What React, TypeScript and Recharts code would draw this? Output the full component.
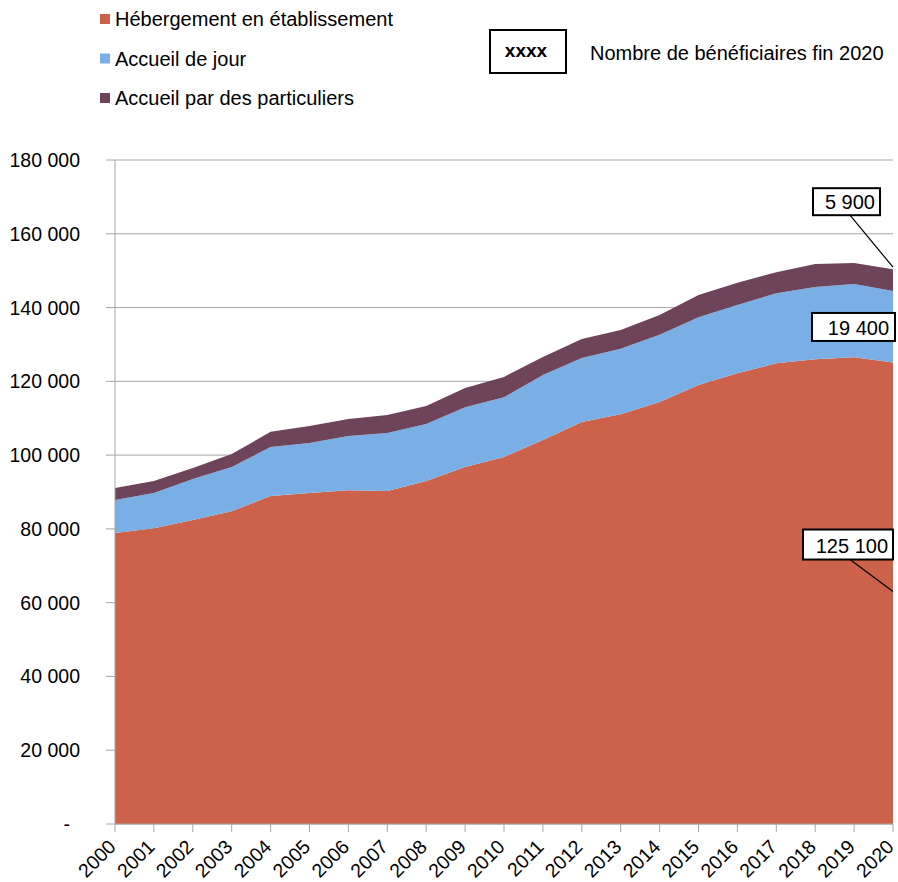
import React from 'react';
import { AreaChart, Area, XAxis, YAxis, CartesianGrid } from 'recharts';

const years = ['2000', '2001', '2002', '2003', '2004', '2005', '2006', '2007', '2008', '2009', '2010',
  '2011', '2012', '2013', '2014', '2015', '2016', '2017', '2018', '2019', '2020'];
const hebergement = [78900, 80200, 82400, 84800, 88900, 89700, 90500, 90300, 93000, 96800, 99500,
  104100, 109000, 111100, 114400, 119000, 122200, 124900, 126000, 126500, 125100];
const accueilJour = [8900, 9500, 11100, 12000, 13300, 13600, 14700, 15700, 15400, 16200, 16200,
  17600, 17300, 17700, 18200, 18400, 18500, 19000, 19600, 19900, 19400];
const particuliers = [3300, 3300, 3000, 3500, 4100, 4600, 4600, 4900, 4900, 5200, 5500,
  4900, 5200, 5100, 5400, 6000, 6000, 5700, 6200, 5700, 5900];
const yTicks = [0, 20000, 40000, 60000, 80000, 100000, 120000, 140000, 160000, 180000];

const FONT = '"Liberation Sans", Arial, sans-serif';
const RED = '#CD624A';
const BLUE = '#7AAFE6';
const PURPLE = '#6E445B';
const GRID = '#A6A6A6';
const FS = 19.5;

const data = years.map((y, i) => ({
  year: y,
  heb: hebergement[i],
  jour: accueilJour[i],
  part: particuliers[i],
}));

const fmt = (v: number) => String(v).replace(/\B(?=(\d{3})+(?!\d))/g, ' ');

const YTick = (props: any) => {
  const { x, y, payload } = props;
  const v = payload.value as number;
  return (
    <text x={v === 0 ? x - 10 : x} y={y} dy={7} textAnchor="end" fontSize={FS} fontFamily={FONT} fill="#000">
      {v === 0 ? '-' : fmt(v)}
    </text>
  );
};

const XTick = (props: any) => {
  const { x, y, payload } = props;
  return (
    <text x={x + 2} y={y + 14} transform={`rotate(-45, ${x + 2}, ${y + 14})`} textAnchor="end"
      fontSize={FS} fontFamily={FONT} fill="#000">
      {payload.value}
    </text>
  );
};

// callout boxes for the 2020 values
const callout = (values: number[], kind: 'top' | 'mid' | 'low') => (props: any) => {
  const { x, y, index } = props;
  if (index !== values.length - 1) return null;
  const txt = fmt(values[index]);
  if (kind === 'top') {
    const bx = x - 80, by = y - 81, w = 67, h = 27;
    return (
      <g>
        <line x1={bx + 37} y1={by + h} x2={x} y2={y - 2} stroke="#000" strokeWidth={1.2} />
        <rect x={bx} y={by} width={w} height={h} fill="#fff" stroke="#000" strokeWidth={2} />
        <text x={bx + w - 5} y={by + 21} textAnchor="end" fontSize={20} fontFamily={FONT} fill="#000">{txt}</text>
      </g>
    );
  }
  if (kind === 'mid') {
    const bx = x - 81, by = y + 22, w = 83, h = 28;
    return (
      <g>
        <rect x={bx} y={by} width={w} height={h} fill="#fff" stroke="#000" strokeWidth={2} />
        <text x={bx + w - 6} y={by + 22} textAnchor="end" fontSize={20} fontFamily={FONT} fill="#000">{txt}</text>
      </g>
    );
  }
  const bx = x - 90, by = y + 167, w = 90, h = 30;
  return (
    <g>
      <line x1={bx + 47} y1={by + h} x2={x} y2={y + 229} stroke="#000" strokeWidth={1.2} />
      <rect x={bx} y={by} width={w} height={h} fill="#fff" stroke="#000" strokeWidth={2} />
      <text x={bx + w - 5} y={by + 23} textAnchor="end" fontSize={20} fontFamily={FONT} fill="#000">{txt}</text>
    </g>
  );
};

const legendItems = [
  { label: 'Hébergement en établissement', color: RED },
  { label: 'Accueil de jour', color: BLUE },
  { label: 'Accueil par des particuliers', color: PURPLE },
];

export default function App() {
  return (
    <div style={{ position: 'absolute', left: 0, top: 0, width: 898, height: 882, background: '#fff' }}>
      <AreaChart width={898} height={882} data={data} margin={{ top: 160, right: 5, left: 0, bottom: 0 }}>
        <CartesianGrid vertical={false} stroke={GRID} />
        <XAxis dataKey="year" height={58} interval={0} tickSize={8} tick={<XTick />}
          axisLine={{ stroke: GRID }} tickLine={{ stroke: GRID }} />
        <YAxis width={115} domain={[0, 180000]} ticks={yTicks} tickSize={9} tickMargin={26}
          tick={<YTick />} axisLine={{ stroke: GRID }} tickLine={{ stroke: GRID }} />
        <Area type="linear" dataKey="heb" stackId="1" stroke="none" fill={RED} fillOpacity={1}
          isAnimationActive={false} label={callout(hebergement, 'low')} />
        <Area type="linear" dataKey="jour" stackId="1" stroke="none" fill={BLUE} fillOpacity={1}
          isAnimationActive={false} label={callout(accueilJour, 'mid')} />
        <Area type="linear" dataKey="part" stackId="1" stroke="none" fill={PURPLE} fillOpacity={1}
          isAnimationActive={false} label={callout(particuliers, 'top')} />
      </AreaChart>
      <svg width={898} height={140} style={{ position: 'absolute', left: 0, top: 0 }}>
        {legendItems.map((it, i) => (
          <g key={it.label}>
            <rect x={100} y={14 + i * 39.5} width={10} height={10} fill={it.color} />
            <text x={115} y={26 + i * 39.5} fontSize={20} fontFamily={FONT} fill="#000">{it.label}</text>
          </g>
        ))}
        <rect x={490} y={30} width={76} height={43} fill="#fff" stroke="#000" strokeWidth={2} />
        <text x={526} y={57} textAnchor="middle" fontSize={19} fontWeight="bold" fontFamily={FONT} fill="#000">xxxx</text>
        <text x={590} y={60} fontSize={20} fontFamily={FONT} fill="#000">Nombre de bénéficiaires fin 2020</text>
      </svg>
    </div>
  );
}
